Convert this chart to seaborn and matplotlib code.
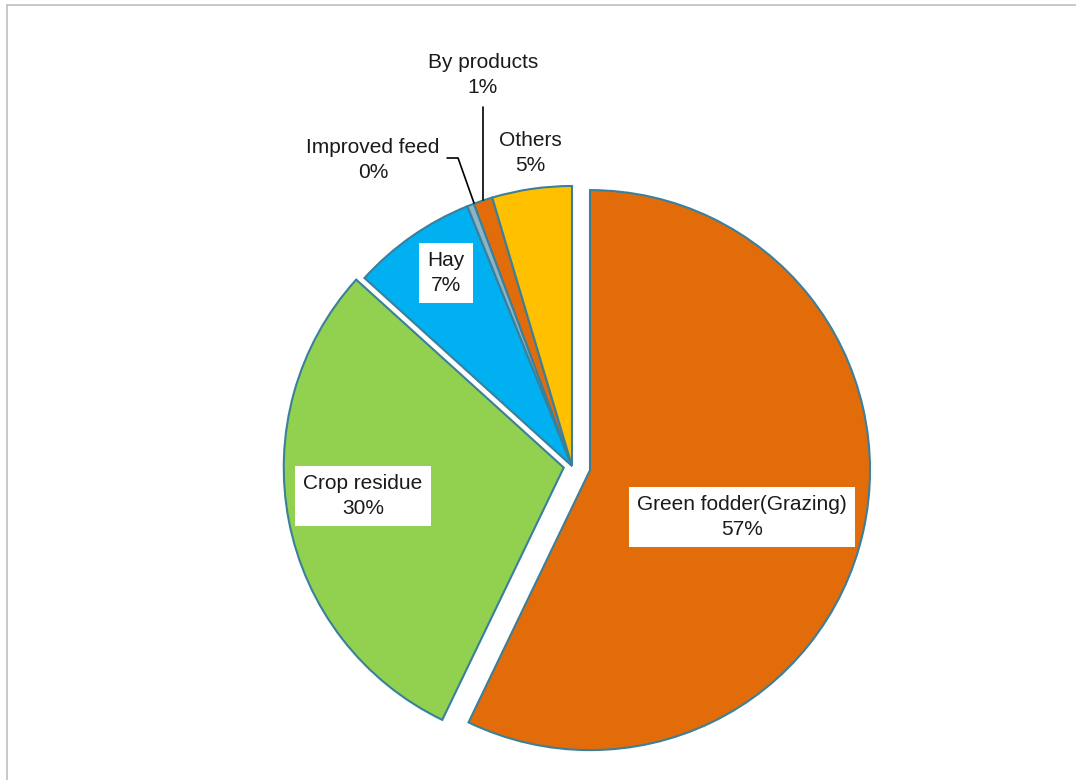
import matplotlib
matplotlib.use("Agg")
import matplotlib.pyplot as plt
import seaborn as sns

# feed sources share
categories = ["Green fodder(Grazing)", "Crop residue", "Hay", "Improved feed", "By products", "Others"]
shares = [57.2, 29.6, 7.2, 0.4, 1.1, 4.6]
colors = ["#E36C0A", "#92D050", "#00B0F0", "#8DB3C7", "#E36C0A", "#FFC000"]
explode = [0.066, 0.03, 0, 0, 0, 0]

sns.set_theme(style="white")
plt.rcParams["font.family"] = ["Liberation Sans Narrow", "Liberation Sans", "DejaVu Sans"]
plt.rcParams["text.color"] = "#1a1a1a"

fig = plt.figure(figsize=(10.76, 7.8), dpi=100)
ax = fig.add_axes([0, 0, 1, 1])

R = 280.0
cx, cy = 572.0, 466.0
wedges, _ = ax.pie(shares, colors=colors, explode=explode, startangle=90,
                   counterclock=False,
                   wedgeprops=dict(edgecolor="#3A809B", linewidth=1.5))
ax.set_aspect("auto")
ax.set_xlim(-cx / R, (1076 - cx) / R)
ax.set_ylim(-(780 - cy) / R, cy / R)
ax.axis("off")

total = sum(shares)
labels = [f"{c}\n{round(v / total * 100):.0f}%" for c, v in zip(categories, shares)]

boxed = dict(boxstyle="square,pad=0.4", fc="white", ec="none")
fs = 15
ls = 1.35
# label positions (data units)
ax.text(0.607, -0.182, labels[0], ha="center", va="center", fontsize=fs, bbox=boxed, linespacing=ls)
ax.text(-0.746, -0.107, labels[1], ha="center", va="center", fontsize=fs, bbox=boxed, linespacing=ls)
ax.text(-0.45, 0.689, labels[2], ha="center", va="center", fontsize=fs, bbox=boxed, linespacing=ls)
ax.text(-0.711, 1.093, labels[3], ha="center", va="center", fontsize=fs, linespacing=ls)
ax.text(-0.318, 1.396, labels[4], ha="center", va="center", fontsize=fs, linespacing=ls)
ax.text(-0.15, 1.118, labels[5], ha="center", va="center", fontsize=fs, linespacing=ls)

# leader lines
ax.plot([-0.446, -0.407, -0.35], [1.10, 1.10, 0.939], color="black", lw=1.2)
ax.plot([-0.318, -0.318], [1.282, 0.95], color="black", lw=1.2)

# chart border (left and top visible)
fig.add_artist(plt.Line2D([6.5 / 1076, 6.5 / 1076], [0, 1 - 4.5 / 780], transform=fig.transFigure,
                          color="#BFBFBF", lw=1.2))
fig.add_artist(plt.Line2D([6.5 / 1076, 1], [1 - 4.5 / 780, 1 - 4.5 / 780], transform=fig.transFigure,
                          color="#BFBFBF", lw=1.2))

fig.savefig("out.png", dpi=100)
plt.close(fig)
